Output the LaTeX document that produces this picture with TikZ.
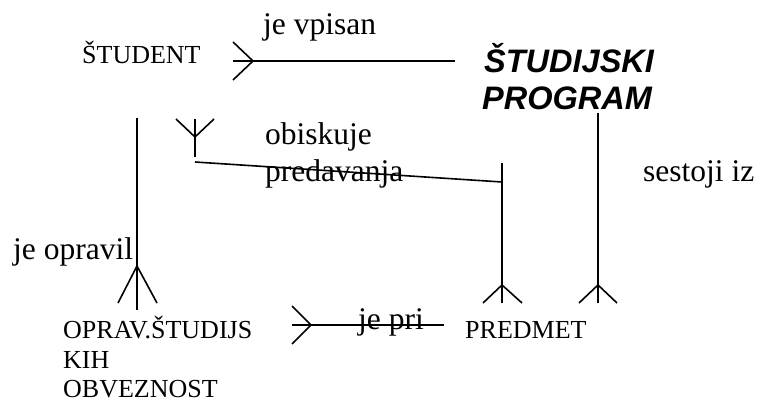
\documentclass[tikz,border=0pt]{standalone}
\usepackage{fontspec}
\setmainfont{Liberation Serif}
\newfontfamily\progfont{Liberation Sans}
\begin{document}
\begin{tikzpicture}[x=1pt,y=-1pt,
  ln/.style={line width=1.6pt, line cap=butt, line join=miter},
  ent/.style={inner sep=0pt, anchor=base west, font=\fontsize{26}{30}\selectfont},
  lbl/.style={inner sep=0pt, anchor=base west, font=\fontsize{31.5}{36}\selectfont},
  prog/.style={inner sep=0pt, anchor=base west, font=\progfont\bfseries\itshape\fontsize{32.5}{38}\selectfont}]
\useasboundingbox (0,0) rectangle (757,403);

% entities
\node[ent]  (student) at (82,64)  {ŠTUDENT};
\node[prog] (prog1)   at (484,73) {ŠTUDIJSKI};
\node[prog] (prog2)   at (482,110) {PROGRAM};
\node[ent]  (opr1)    at (63,338) {OPRAV.ŠTUDIJS};
\node[ent]  (opr2)    at (63,368) {KIH};
\node[ent]  (opr3)    at (63,397.5) {OBVEZNOST};
\node[ent]  (predmet) at (465,338) {PREDMET};

% labels
\node[lbl] (vpisan)  at (263,35)  {je vpisan};
\node[lbl] (obisk1)  at (265,145) {obiskuje};
\node[lbl] (obisk2)  at (265,182) {predavanja};
\node[lbl] (sestoji) at (643,182) {sestoji iz};
\node[lbl] (opravil) at (13,260)  {je opravil};
\node[lbl] (pri)     at (358,329) {je pri};

% connector 1: STUDENT -- STUDIJSKI PROGRAM
\coordinate (a1) at (233,61);
\coordinate (a2) at (455,61);
\coordinate (a3) at (253,61);
\coordinate (a4) at (233,42);
\coordinate (a5) at (233,80);
\draw[ln] (a1) -- (a2);
\draw[ln] (a4) -- (a3) -- (a5);

% connector 2: STUDENT -- OPRAV
\coordinate (b1) at (137,118);
\coordinate (b2) at (137,310);
\coordinate (b3) at (137,266);
\coordinate (b4) at (118,303);
\coordinate (b5) at (157,303);
\draw[ln] (b1) -- (b2);
\draw[ln] (b4) -- (b3) -- (b5);

% connector 3: STUDENT -- PREDMET (obiskuje predavanja)
\coordinate (c1) at (176,119);
\coordinate (c2) at (195,137);
\coordinate (c3) at (214,119);
\coordinate (c4) at (195,119);
\coordinate (c5) at (195,157);
\coordinate (c6) at (195,162);
\coordinate (c7) at (502,182);
\coordinate (c8) at (502,163);
\coordinate (c9) at (502,303);
\coordinate (c10) at (502,285);
\coordinate (c11) at (483,303);
\coordinate (c12) at (522,303);
\draw[ln] (c1) -- (c2) -- (c3);
\draw[ln] (c4) -- (c5);
\draw[ln] (c6) -- (c7);
\draw[ln] (c8) -- (c9);
\draw[ln] (c11) -- (c10) -- (c12);

% connector 4: STUDIJSKI PROGRAM -- PREDMET
\coordinate (d1) at (598,113);
\coordinate (d2) at (598,303);
\coordinate (d3) at (598,285);
\coordinate (d4) at (579,303);
\coordinate (d5) at (617,303);
\draw[ln] (d1) -- (d2);
\draw[ln] (d4) -- (d3) -- (d5);

% connector 5: OPRAV -- PREDMET
\coordinate (e1) at (292,325);
\coordinate (e2) at (444,325);
\coordinate (e3) at (311,325);
\coordinate (e4) at (292,306);
\coordinate (e5) at (292,344);
\draw[ln] (e1) -- (e2);
\draw[ln] (e4) -- (e3) -- (e5);
\end{tikzpicture}
\end{document}
